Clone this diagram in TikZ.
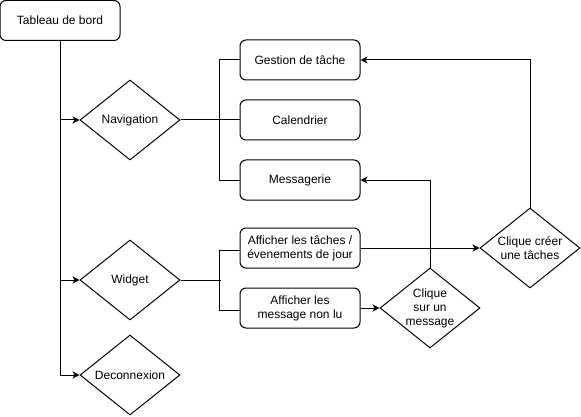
\documentclass[tikz,border=0pt]{standalone}
\usepackage{fontspec}
\setmainfont{Liberation Sans}
\usetikzlibrary{shapes.geometric,arrows.meta}
\begin{document}
\begin{tikzpicture}[x=1pt,y=-1pt,
  every node/.style={font=\fontsize{12}{14}\selectfont},
  box/.style={draw,line width=1pt,rounded corners=6pt,minimum width=120pt,minimum height=40pt,inner sep=0pt,align=center},
  dia/.style={draw,line width=1pt,diamond,minimum width=100pt,minimum height=80pt,inner sep=0pt,aspect=1.25,align=center},
  conn/.style={line width=1pt},
  arr/.style={line width=1pt,-{Stealth[length=7pt,width=7pt,inset=2pt]}}]
\useasboundingbox (0,0) rectangle (581,417);
\node[box] (tb) at (60,20.5) {Tableau de bord};
\node[dia] (nav) at (130,120) {Navigation};
\node[dia] (wid) at (130,280) {Widget};
\node[dia] (dec) at (130,375) {Deconnexion};
\node[box] (ges) at (300,60) {Gestion de tâche};
\node[box] (cal) at (300,120) {Calendrier};
\node[box] (mes) at (300,180) {Messagerie};
\node[box] (aft) at (300,248) {Afficher les tâches /\\évenements de jour};
\node[box] (afm) at (300,308) {Afficher les\\message non lu};
\node[dia] (csm) at (430,308) {Clique\\sur un\\message};
\node[dia] (cct) at (530,248) {Clique créer\\une tâches};
\coordinate (trunk) at (60,375);
\draw[conn] (tb.south) -- (trunk);
\draw[arr] (tb.south |- nav.west) -- (nav.west);
\draw[arr] (tb.south |- wid.west) -- (wid.west);
\draw[arr] (trunk) -- (dec.west);
\draw[conn] (nav.east) -- (cal.west);
\draw[conn] (ges.west) -- ++(-20,0) |- (mes.west);
\draw[conn] (wid.east) -- ++(40,0) coordinate (wb);
\draw[conn] (aft.west |- 0,250) -- ++(-20,0) |- (afm.west |- 0,310);
\draw[arr] (aft.east) -- (cct.west);
\draw[arr] (afm.east) -- (csm.west);
\draw[arr] (csm.north) |- (mes.east);
\draw[arr] (cct.north) |- (ges.east);
\end{tikzpicture}
\end{document}
